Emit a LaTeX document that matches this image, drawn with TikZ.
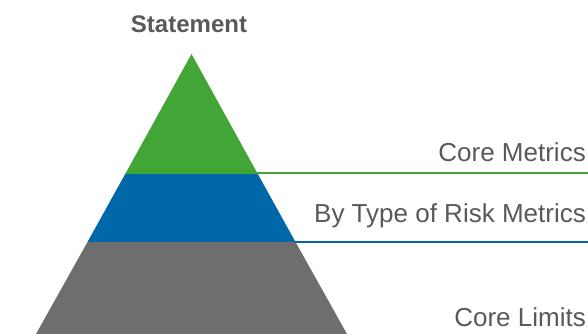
\documentclass[tikz,border=0pt]{standalone}
\usepackage{fontspec}
\setmainfont{Liberation Sans}
\usetikzlibrary{calc}
\definecolor{tiergreen}{HTML}{42A637}
\definecolor{tierblue}{HTML}{0067A9}
\definecolor{tiergray}{HTML}{6E6E6E}
\definecolor{labelgray}{HTML}{595959}
\begin{document}
\begin{tikzpicture}[x=1pt,y=-1pt,
  tierlabel/.style={anchor=base east,inner sep=0pt,text=labelgray,
    font=\fontsize{26}{30}\selectfont},
  titlelabel/.style={anchor=base,inner sep=0pt,text=labelgray,
    font=\bfseries\fontsize{24}{28}\selectfont},
  leader/.style={line width=2pt}]
\useasboundingbox (0,0) rectangle (588,334);
% pyramid outline points
\coordinate (apex) at (191.5,54);
\coordinate (gl) at (125.2,174);
\coordinate (gr) at (257.8,174);
\coordinate (bl) at (87.5,242);
\coordinate (br) at (295.5,242);
\coordinate (kl) at (36,334);
\coordinate (kr) at (347,334);
% tiers
\fill[tiergreen] (apex) -- (gr) -- (gl) -- cycle;
\fill[tierblue] (gl) -- (gr) -- (br) -- (bl) -- cycle;
\fill[tiergray] (bl) -- (br) -- (kr) -- (kl) -- cycle;
% leader lines to the right edge
\coordinate (gend) at (588,173);
\coordinate (bend) at (588,241.5);
\draw[leader,tiergreen] ($(gr)+(-0.5,-1)$) coordinate (gstart) -- (gend);
\draw[leader,tierblue] ($(br)+(-0.5,-0.5)$) coordinate (bstart) -- (bend);
% labels
\node[titlelabel] (title) at (189,33) {Statement};
\node[tierlabel] (core) at (586,161) {Core Metrics};
\node[tierlabel] (risk) at (586,222.5) {By Type of Risk Metrics};
\node[tierlabel] (limits) at (586,326) {Core Limits};
\end{tikzpicture}
\end{document}
